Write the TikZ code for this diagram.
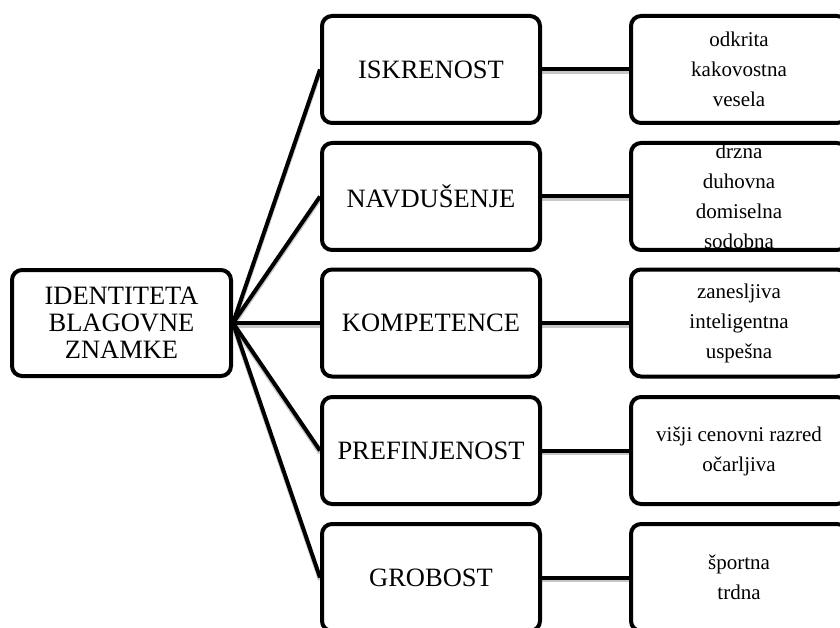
\documentclass[tikz,border=0pt]{standalone}
\usepackage{fontspec}
\setmainfont{Liberation Serif}
\usetikzlibrary{backgrounds}
\begin{document}
\begin{tikzpicture}[x=1pt,y=-1pt,
  box/.style={draw=black, line width=4pt, rounded corners=10pt, fill=white,
              minimum width=218pt, minimum height=107pt, inner sep=0pt},
  big/.style={font=\fontsize{26.5}{27}\selectfont, align=center},
  small/.style={font=\fontsize{21}{30}\selectfont, align=center, inner sep=0pt},
  link/.style={line width=4pt, draw=black},
  shade/.style={line width=4pt, draw=black!22, transform canvas={yshift=-2.5pt}}]
\useasboundingbox (0,0) rectangle (840,628);
\clip (0,0) rectangle (840,628);

% left box
\node[box, big, minimum width=219pt, minimum height=106pt] (L) at (121.5,323) {IDENTITETA\\BLAGOVNE\\ZNAMKE};

% middle boxes
\node[box, big] (m1) at (431,69.5)  {ISKRENOST};
\node[box, big] (m2) at (431,196.5) {NAVDUŠENJE};
\node[box, big] (m3) at (431,323)   {KOMPETENCE};
\node[box, big] (m4) at (431,450.5) {PREFINJENOST};
\node[box, big] (m5) at (431,577.5) {GROBOST};

% right boxes
\node[box, minimum width=216pt] (r1) at (739,69.5)  {};
\node[box, minimum width=216pt] (r2) at (739,196.5) {};
\node[box, minimum width=216pt] (r3) at (739,323)   {};
\node[box, minimum width=216pt] (r4) at (739,450.5) {};
\node[box, minimum width=216pt] (r5) at (739,577.5) {};

\node[small] (t1) at (r1.center) {odkrita\\kakovostna\\vesela};
\node[small] (t2) at (r2.center) {drzna\\duhovna\\domiselna\\sodobna};
\node[small] (t3) at (r3.center) {zanesljiva\\inteligentna\\uspešna};
\node[small] (t4) at ([yshift=-1pt]r4.center) {višji cenovni razred\\očarljiva};
\node[small] (t5) at (r5.center) {športna\\trdna};

\begin{scope}[on background layer]
  \foreach \i in {1,...,5} {
    \draw[shade] (L.east) -- (m\i.west);
    \draw[shade] (m\i.east) -- (r\i.west);
  }
  \foreach \i in {1,...,5} {
    \draw[link] (L.east) -- (m\i.west);
    \draw[link] (m\i.east) -- (r\i.west);
  }
\end{scope}
\end{tikzpicture}
\end{document}
